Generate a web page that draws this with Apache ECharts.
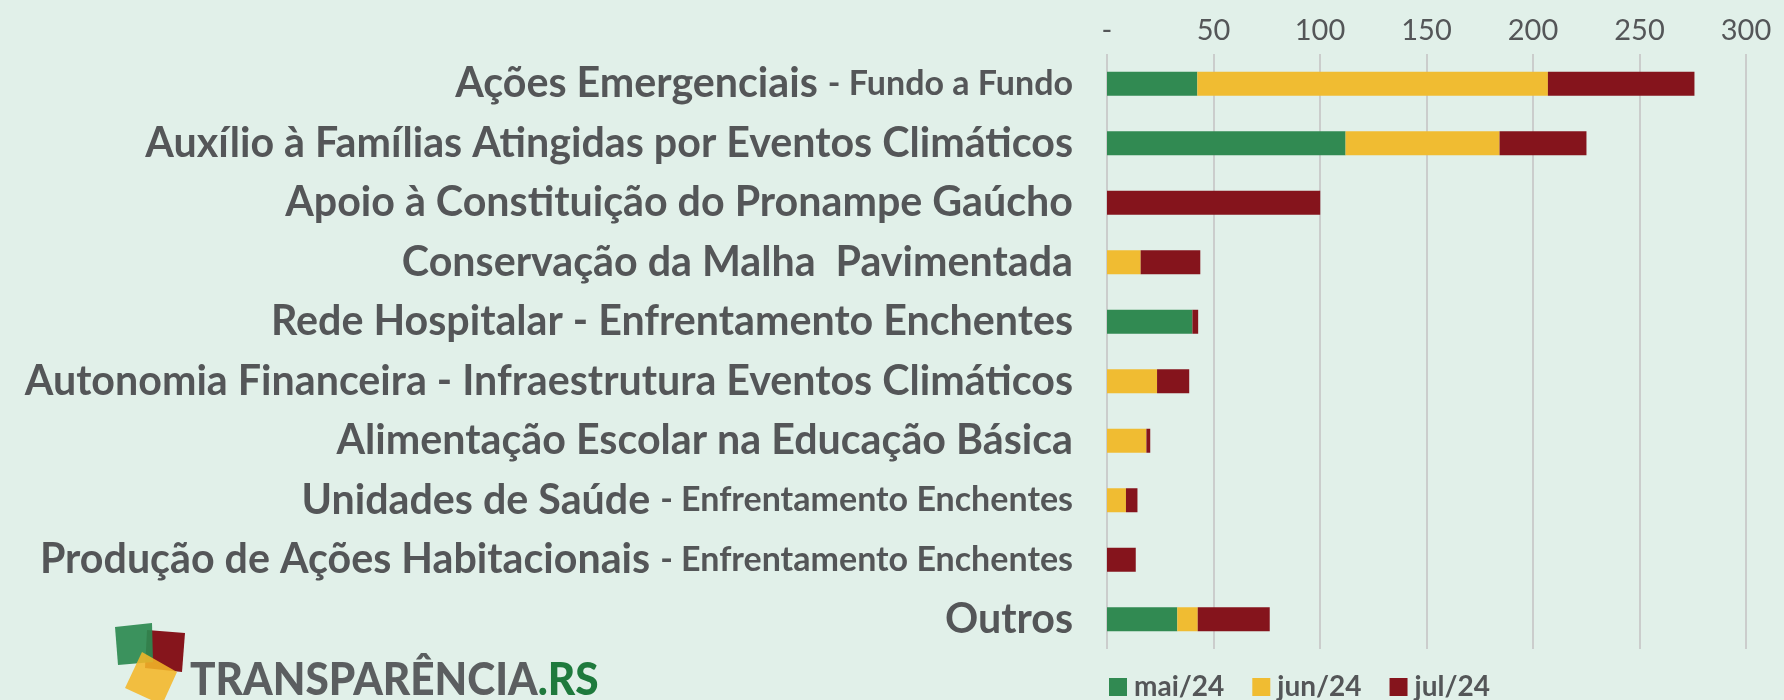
<!DOCTYPE html>
<html><head><meta charset="utf-8">
<script src="https://cdn.jsdelivr.net/npm/echarts@6/dist/echarts.min.js"></script>
<style>html,body{margin:0;padding:0;background:#e1f0e9}#c{width:1784px;height:700px}</style>
</head><body><div id="c"></div>
<script>
const categories = [
  'Ações Emergenciais - Fundo a Fundo',
  'Auxílio à Famílias Atingidas por Eventos Climáticos',
  'Apoio à Constituição do Pronampe Gaúcho',
  'Conservação da Malha  Pavimentada',
  'Rede Hospitalar - Enfrentamento Enchentes',
  'Autonomia Financeira - Infraestrutura Eventos Climáticos',
  'Alimentação Escolar na Educação Básica',
  'Unidades de Saúde - Enfrentamento Enchentes',
  'Produção de Ações Habitacionais - Enfrentamento Enchentes',
  'Outros'
];
// smaller-font tail of each label ('' = none)
const smallTails = ['- Fundo a Fundo', '', '', '', '', '', '', '- Enfrentamento Enchentes', '- Enfrentamento Enchentes', ''];
const seriesNames = ['mai/24', 'jun/24', 'jul/24'];
const mai24 = [42.4, 112.0, 0, 0, 40.1, 0, 0, 0, 0, 33.0];
const jun24 = [164.6, 72.3, 0, 15.8, 0, 23.5, 18.5, 8.9, 0, 9.6];
const jul24 = [68.8, 40.8, 100.1, 28.0, 2.7, 15.1, 1.8, 5.4, 13.5, 33.8];
const xTicks = { min: 0, max: 300, interval: 50 };
const colors = ['#318a52', '#f0bc32', '#85141c'];

const FONT = 'Lato';
const chart = echarts.init(document.getElementById('c'), null, { renderer: 'canvas' });
const mk = (name, data, i) => ({
  name, type: 'bar', stack: 'total', data, barWidth: 24,
  itemStyle: { color: colors[i] }, emphasis: { disabled: true }
});
chart.setOption({
  backgroundColor: '#e1f0e9',
  animation: false,
  color: colors,
  grid: { left: 1107, right: 38, top: 54, bottom: 51, containLabel: false },
  xAxis: {
    type: 'value', position: 'top', min: xTicks.min, max: xTicks.max, interval: xTicks.interval,
    axisLine: { show: false }, axisTick: { show: false },
    splitLine: { show: true, lineStyle: { color: '#cbcdcc', width: 2 } },
    axisLabel: {
      margin: 9, fontFamily: FONT, fontSize: 29, color: '#545658',
      formatter: v => v === 0 ? '-' : String(v)
    }
  },
  yAxis: {
    type: 'category', data: categories, inverse: true,
    axisLine: { show: false }, axisTick: { show: false },
    axisLabel: {
      margin: 34, color: '#545658',
      formatter: (v, i) => {
        const t = smallTails[i];
        if (t) {
          const main = v.slice(0, v.length - t.length).trimEnd();
          return '{m|' + main + ' }{s|' + t + '}';
        }
        return '{m|' + v + '}';
      },
      rich: {
        m: { fontFamily: FONT, fontWeight: 'bold', fontSize: 41.2, color: '#545658' },
        s: { fontFamily: FONT, fontWeight: 'bold', fontSize: 34, color: '#545658' }
      }
    }
  },
  legend: {
    left: 1104, top: 668, itemWidth: 18, itemHeight: 18, itemGap: 28, icon: 'rect',
    textStyle: { fontFamily: FONT, fontWeight: 'bold', fontSize: 28, color: '#545658', padding: [0, 0, 0, 2] },
    data: seriesNames
  },
  series: [mk(seriesNames[0], mai24, 0), mk(seriesNames[1], jun24, 1), mk(seriesNames[2], jul24, 2)],
  graphic: [
    { type: 'polygon', shape: { points: [[147,630],[185,633],[182,672],[145,668]] }, style: { fill: '#86151c' } },
    { type: 'polygon', shape: { points: [[115,627],[152,623],[153,662],[118,665]] }, style: { fill: '#2d8a50', opacity: 0.92 } },
    { type: 'polygon', shape: { points: [[142,652],[177,672],[162,705],[125,688]] }, style: { fill: '#f4b628', opacity: 0.88 } },
    {
      type: 'text', x: 190, y: 658, scaleX: 0.94,
      style: {
        text: '{a|TRANSPARÊNCIA}{b|.RS}',
        rich: {
          a: { fontFamily: 'Lato', fontWeight: 900, fontSize: 45, fill: '#5b5e60' },
          b: { fontFamily: 'Lato', fontWeight: 900, fontSize: 45, fill: '#1f7a3d' }
        }
      }
    }
  ]
});
</script></body></html>
